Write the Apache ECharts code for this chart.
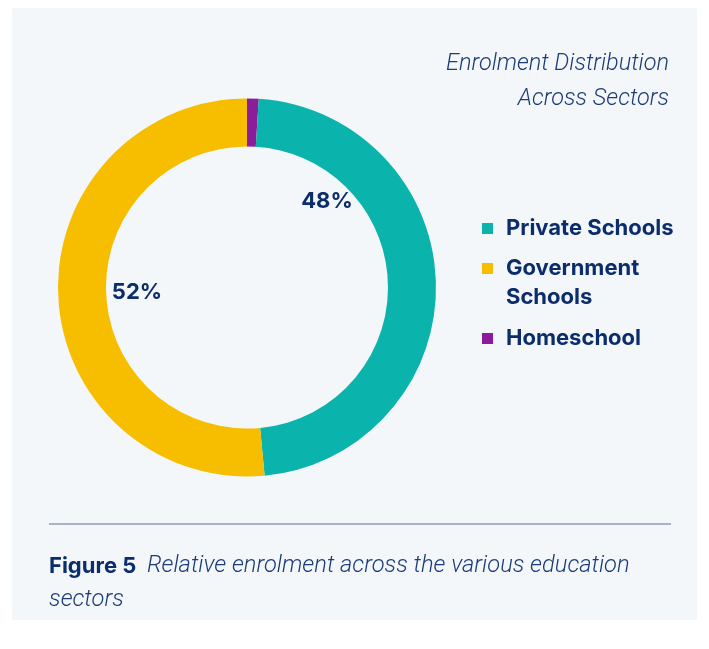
<!DOCTYPE html>
<html>
<head>
<meta charset="utf-8">
<script src="https://cdn.jsdelivr.net/npm/echarts@6/dist/echarts.min.js"></script>
<style>
  html, body { margin: 0; padding: 0; background: #ffffff; }
  #chart { width: 709px; height: 649px; }
</style>
</head>
<body>
<div id="chart"></div>
<script>
// Enrolment share by education sector (percent)
const categories = ['Homeschool', 'Private Schools', 'Government Schools'];
const shares = [1, 48, 52];
const sliceColors = ['#8b1c9c', '#0ab3ac', '#f7be00'];
const legendOrder = ['Private Schools', 'Government Schools', 'Homeschool'];

const titleLines = ['Enrolment Distribution', 'Across Sectors'];
const captionLabel = 'Figure 5';
const captionText = ['Relative enrolment across the various education', 'sectors'];

const navy = '#0c2d6b';
const softNavy = '#1d3b78';
const cx = 247, cy = 287.5;
// where each percentage label sits, relative to the ring centre
const labelSpots = { 'Private Schools': [80, -86], 'Government Schools': [-110, 5] };
// vertical placement of each legend entry
const legendTops = { 'Private Schools': 214, 'Government Schools': 225, 'Homeschool': 324 };

const legendText = {
  fontFamily: 'Inter',
  fontWeight: 700,
  fontSize: 22,
  color: navy,
  lineHeight: 29,
  padding: [0, 0, 0, 8]
};

const legends = legendOrder.map(name => ({
  orient: 'vertical',
  left: 482,
  top: legendTops[name],
  padding: 0,
  data: [name],
  icon: 'rect',
  itemWidth: 11,
  itemHeight: 11,
  selectedMode: false,
  // the two-word entry wraps; an empty leading line keeps its marker beside "Government"
  formatter: n => n === 'Government Schools' ? '\u00a0\nGovernment\nSchools' : n,
  textStyle: legendText
}));

const italic = { fontFamily: 'Roboto', fontStyle: 'italic', fontWeight: 300, fontSize: 23.5 };

const chart = echarts.init(document.getElementById('chart'), null, { renderer: 'canvas' });

chart.setOption({
  backgroundColor: '#ffffff',
  animation: false,
  legend: legends,
  graphic: [
    {
      type: 'rect', z: -10, silent: true,
      shape: { x: 12, y: 8, width: 685, height: 612 },
      style: { fill: '#f3f7fa' }
    },
    {
      type: 'text', silent: true,
      x: 669, y: 47,
      style: Object.assign({
        text: titleLines.join('\n'),
        align: 'right',
        lineHeight: 35,
        fill: softNavy
      }, italic)
    },
    {
      type: 'line', silent: true,
      shape: { x1: 49, y1: 524, x2: 671, y2: 524 },
      style: { stroke: '#5d7098', lineWidth: 1.2 }
    },
    {
      type: 'text', silent: true,
      x: 49, y: 549,
      style: {
        text: '{b|' + captionLabel + '}  {i|' + captionText[0] + '}\n{i|' + captionText[1] + '}',
        rich: {
          b: { fontFamily: 'Inter', fontWeight: 700, fontSize: 22, fill: navy, lineHeight: 34, padding: [0, 4, 0, 0] },
          i: Object.assign({ fill: softNavy, lineHeight: 34 }, italic, { fontSize: 23.7 })
        }
      }
    }
  ],
  series: [{
    type: 'pie',
    center: [cx, cy],
    radius: [141, 189],
    startAngle: 90,
    clockwise: true,
    avoidLabelOverlap: false,
    silent: true,
    data: categories.map((name, i) => ({
      name: name,
      value: shares[i],
      itemStyle: { color: sliceColors[i] },
      label: { show: name !== 'Homeschool' }
    })),
    label: {
      position: 'inside',
      formatter: p => p.value + '%',
      fontFamily: 'Inter',
      fontWeight: 700,
      fontSize: 22,
      color: navy
    },
    labelLine: { show: false },
    labelLayout: function (params) {
      const spot = labelSpots[categories[params.dataIndex]];
      if (!spot) return {};
      return { x: cx + spot[0], y: cy + spot[1], align: 'center', verticalAlign: 'middle' };
    }
  }]
});
</script>
</body>
</html>
